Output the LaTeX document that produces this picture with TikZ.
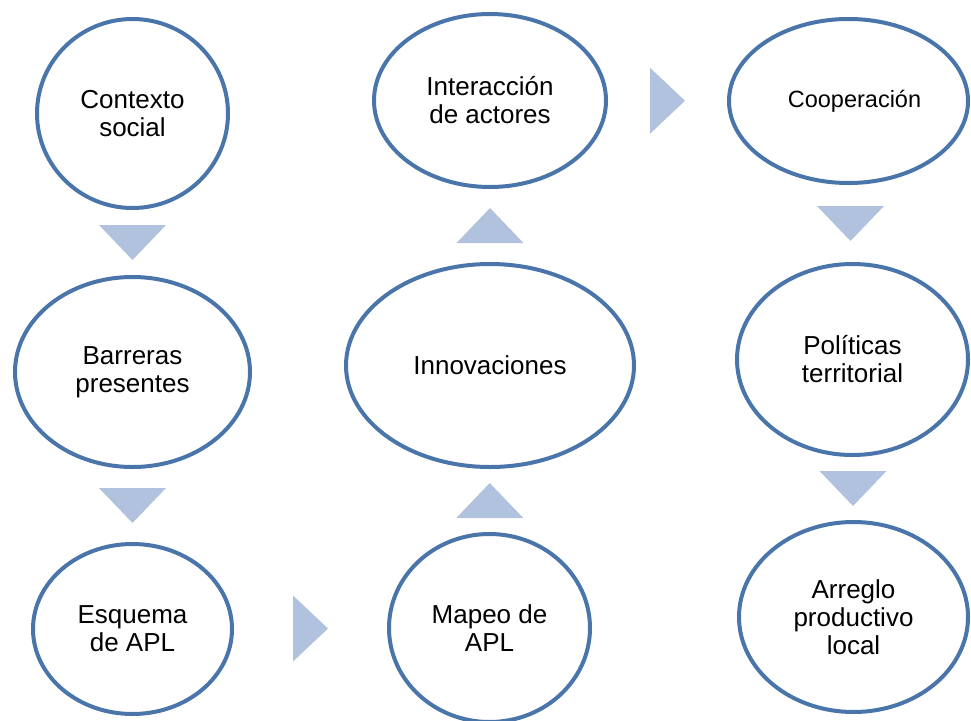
\documentclass[tikz,border=0pt]{standalone}
\usepackage{fontspec}
\setmainfont{Liberation Sans}
\usetikzlibrary{shapes.geometric,calc}
\definecolor{ringblue}{HTML}{4A75AB}
\definecolor{trifill}{HTML}{B0C2DD}
\tikzset{
  ring/.style={ellipse,draw=ringblue,line width=4pt,fill=white,inner sep=0pt,
    align=center,font=\fontsize{26}{28}\selectfont},
  trishape/.style={fill=trifill,draw=none}
}
\begin{document}
\begin{tikzpicture}[x=1pt,y=-1pt]
\useasboundingbox (0,0) rectangle (971,720);
\clip (0,0) rectangle (971,720);
% ellipses: minimum size = outer size - line width
\node[ring,minimum width=191pt,minimum height=189pt] (c1) at (132.5,113.5) {Contexto\\social};
\node[ring,minimum width=235pt,minimum height=190pt] (c2) at (132.5,372) {Barreras\\presentes};
\node[ring,minimum width=199pt,minimum height=170pt] (c3) at (132.5,629) {Esquema\\de APL};
\node[ring,minimum width=201pt,minimum height=188pt] (c4) at (489.5,628) {Mapeo de\\APL};
\node[ring,minimum width=288pt,minimum height=203pt] (c5) at (490,365.5) {Innovaciones};
\node[ring,minimum width=232pt,minimum height=173pt] (c6) at (490,100.5) {Interacción\\de actores};
\node[ring,minimum width=239pt,minimum height=164pt,font=\fontsize{23.5}{26}\selectfont] (c7) at (848.5,101) {\hspace*{12pt}Cooperación};
\node[ring,minimum width=231pt,minimum height=191pt] (c8) at (852.5,359.5) {Políticas\\territorial};
\node[ring,minimum width=229pt,minimum height=190pt] (c9) at (853.5,617) {Arreglo\\productivo\\local};
% connector triangles, centred between the nodes they link
\coordinate (t1) at ($(c1.south)!0.5!(c2.north)$);
\coordinate (t2) at ($(c2.south)!0.5!(c3.north)$);
\coordinate (t3) at ($(c3.east)!0.5!(c4.west)$);
\coordinate (t4) at ($(c4.north)!0.5!(c5.south)$);
\coordinate (t5) at ($(c5.north)!0.5!(c6.south)$);
\coordinate (t6) at ($(c6.east)!0.5!(c7.west)$);
\coordinate (t7) at ($(c7.south)!0.5!(c8.north)$);
\coordinate (t8) at ($(c8.south)!0.5!(c9.north)$);
% down-pointing
\foreach \t in {t1,t2,t7,t8}
  \fill[trishape] (\t) ++(-33.5,-17.5) -- ++(67,0) -- ++(-33.5,35) -- cycle;
% up-pointing
\foreach \t in {t4,t5}
  \fill[trishape] (\t) ++(-33.5,17.5) -- ++(67,0) -- ++(-33.5,-35) -- cycle;
% right-pointing
\foreach \t in {t3,t6}
  \fill[trishape] (\t) ++(-17.5,-33) -- ++(0,66) -- ++(35,-33) -- cycle;
\end{tikzpicture}
\end{document}
